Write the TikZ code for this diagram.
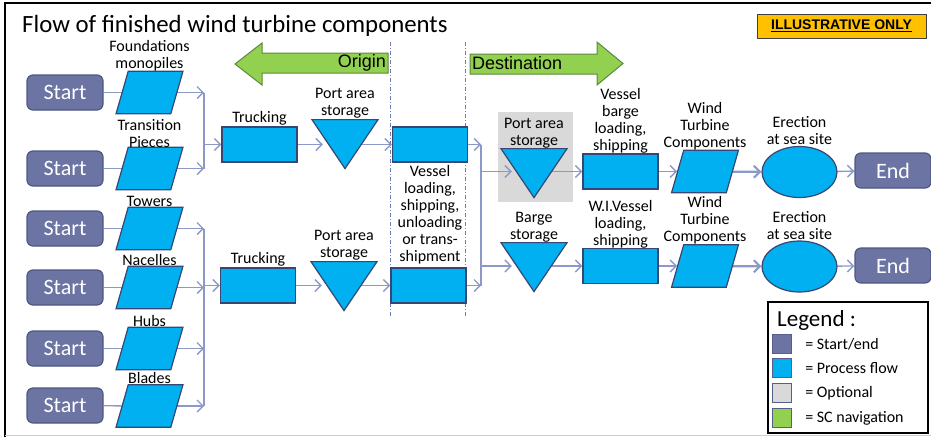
\documentclass[tikz,border=0pt]{standalone}
\usepackage{fontspec}
\setmainfont{Carlito}
\newfontfamily\arialfont{Liberation Sans}
\usepackage{tikz}
\usetikzlibrary{arrows.meta, positioning, shapes.geometric, backgrounds}
\usepackage{xcolor}
\definecolor{startfill}{RGB}{107,116,162}
\definecolor{startdraw}{RGB}{78,88,130}
\definecolor{procblue}{RGB}{0,176,240}
\definecolor{procdraw}{RGB}{55,70,115}
\definecolor{flowline}{RGB}{140,153,200}
\definecolor{optgray}{RGB}{217,217,217}
\definecolor{navgreen}{RGB}{146,208,80}
\definecolor{navdraw}{RGB}{95,135,60}
\definecolor{illuyellow}{RGB}{255,192,0}
\definecolor{divline}{RGB}{110,125,180}
\definecolor{keydraw}{RGB}{85,95,140}

\tikzset{
  startbox/.style={rectangle, rounded corners=6pt, fill=startfill, draw=startdraw,
    line width=1.2pt, minimum width=76pt, minimum height=35pt, inner sep=0pt,
    text=white, font=\fontsize{22}{22}\selectfont},
  procbox/.style={rectangle, fill=procblue, draw=procdraw, line width=1.2pt,
    minimum width=75pt, minimum height=35pt, inner sep=0pt},
  compbox/.style={trapezium, trapezium left angle=74, trapezium right angle=106,
    fill=procblue, draw=procdraw, line width=1.2pt,
    minimum width=67pt, minimum height=41pt, inner sep=1pt},
  storetri/.style={isosceles triangle, isosceles triangle apex angle=68,
    shape border rotate=270, fill=procblue, draw=procdraw, line width=1.2pt,
    minimum width=49pt, minimum height=49pt, inner sep=1pt, anchor=lower side},
  siteell/.style={ellipse, fill=procblue, draw=procdraw, line width=1.2pt,
    minimum width=75pt, minimum height=51pt, inner sep=0pt},
  lbl/.style={font=\fontsize{16}{17}\selectfont, align=center, inner sep=1pt},
  flow/.style={draw=flowline, line width=1.4pt},
  flowarr/.style={flow, -{Straight Barb[length=6pt, width=12pt]}},
  navarrow/.style={fill=navgreen, draw=navdraw, line width=1pt},
  keybox/.style={rectangle, minimum size=19pt, inner sep=0pt, draw=keydraw, line width=1.2pt},
  keytext/.style={font=\fontsize{16}{18}\selectfont, inner sep=0pt},
}

\begin{document}
\begin{tikzpicture}[x=1pt, y=-1pt]
\useasboundingbox (0,0) rectangle (931,437);

% frame and title
\draw[line width=1.5pt] (5,437) -- (5,3) -- (931,3);
\draw[black!20, line width=1pt] (5,435.5) -- (931,435.5);
\node[anchor=base west, inner sep=0pt, font=\fontsize{24.8}{25}\selectfont] (title) at (22,32)
  {Flow of finished wind turbine components};
\node[fill=illuyellow, draw=black!75, line width=1pt, minimum width=169pt, minimum height=24pt,
  inner sep=0pt, font=\arialfont\bfseries\fontsize{14}{14}\selectfont] (illu) at (841.5,26)
  {\underline{ILLUSTRATIVE ONLY}};

% navigation arrows
\draw[navarrow] (388,53) -- (262,53) -- (262,43) -- (235,64) -- (262,85) -- (262,73) -- (388,73) -- cycle;
\node[anchor=east, inner sep=0pt, font=\arialfont\fontsize{18}{18}\selectfont] (origin) at (386,63) {Origin};
\draw[navarrow] (470,54) -- (597,54) -- (597,42) -- (623,63.5) -- (597,85) -- (597,74) -- (470,74) -- cycle;
\node[anchor=west, inner sep=0pt, font=\arialfont\fontsize{18}{18}\selectfont] (dest) at (472,63) {Destination};

% dividers
\draw[divline, line width=1pt, dash pattern=on 4pt off 2pt on 1pt off 2pt] (390,42) -- (390,317);
\draw[divline, line width=1pt, dash pattern=on 4pt off 2pt on 1pt off 2pt] (465,42) -- (465,317);

% start column
\node[startbox] (s1) at (65,92.5) {Start};
\node[startbox] (s2) at (65,168.5) {Start};
\node[startbox] (s3) at (65,228.5) {Start};
\node[startbox] (s4) at (65,287.5) {Start};
\node[startbox] (s5) at (65,348.5) {Start};
\node[startbox] (s6) at (65,405.5) {Start};

% components
\node[compbox] (p1) at (149.5,92.5) {};
\node[compbox] (p2) at (149.5,168.5) {};
\node[compbox] (p3) at (149.5,228.5) {};
\node[compbox] (p4) at (149.5,287.5) {};
\node[compbox] (p5) at (149.5,348.5) {};
\node[compbox] (p6) at (149.5,406) {};
\node[lbl, above=-2pt of p1] (p1l) {Foundations\\monopiles};
\node[lbl, above=-2pt of p2] (p2l) {Transition\\Pieces};
\node[lbl, above=-1pt of p3] (p3l) {Towers};
\node[lbl, above=-1pt of p4] (p4l) {Nacelles};
\node[lbl, above=-1pt of p5] (p5l) {Hubs};
\node[lbl, above=-1pt of p6] (p6l) {Blades};

% origin side
\node[procbox] (t1) at (259.5,144.5) {};
\node[procbox] (t2) at (258,285.5) {};
\node[lbl, above=-0.5pt of t1] (t1l) {Trucking};
\node[lbl, above=-0.5pt of t2] (t2l) {Trucking};
\node[storetri] (q1) at (345,119) {};
\node[storetri] (q2) at (344,261) {};
\node[lbl, above=0pt of q1.lower side] (q1l) {Port area\\storage};
\node[lbl, above=0pt of q2.lower side] (q2l) {Port area\\storage};
\node[procbox] (v1) at (430,144.5) {};
\node[procbox] (v2) at (428.5,285.5) {};
\node[lbl, below=2pt of v1] (v1l) {Vessel\\loading,\\shipping,\\unloading\\or trans-\\shipment};

% destination side
\node[storetri] (q3) at (534,148) {};
\node[storetri] (q4) at (534,242) {};
\node[lbl, above=-1pt of q3.lower side] (q3l) {Port area\\storage};
\node[lbl, above=-1pt of q4.lower side] (q4l) {Barge\\storage};
\node[procbox] (b3) at (620.5,171.5) {};
\node[procbox] (b4) at (620.5,266) {};
\node[lbl, above=-1.5pt of b3] (b3l) {Vessel\\barge\\loading,\\shipping};
\node[lbl, above=-1.5pt of b4] (b4l) {W.I.Vessel\\loading,\\shipping};
\node[compbox] (p7) at (705,171.5) {};
\node[compbox] (p8) at (705,266) {};
\node[lbl, above=-1.5pt of p7] (p7l) {Wind\\Turbine\\Components};
\node[lbl, above=-1.5pt of p8] (p8l) {Wind\\Turbine\\Components};
\node[siteell] (e1) at (799.5,172) {};
\node[siteell] (e2) at (799.5,266.5) {};
\node[lbl, above=0pt of e1] (e1l) {Erection\\at sea site};
\node[lbl, above=0pt of e2] (e2l) {Erection\\at sea site};
\node[startbox] (n1) at (893,170.5) {End};
\node[startbox] (n2) at (893,265.5) {End};

% bus points
\coordinate (ba1) at (204,92.5);
\coordinate (ba2) at (204,168.5);
\coordinate (bb1) at (204,228.5);
\coordinate (bb2) at (204,406);
\coordinate (bc1) at (481,144.5);
\coordinate (bc2) at (481,285.5);

% legend
\node[draw=black, line width=1.5pt, minimum width=160pt, minimum height=131pt, inner sep=0pt] (legend) at (848,367.5) {};
\node[anchor=base west, inner sep=0pt, font=\fontsize{23}{23}\selectfont] (legtitle) at (777,326) {Legend :};
\node[keybox, fill=startfill] (k1) at (782,344) {};
\node[keybox, fill=procblue] (k2) at (782,368) {};
\node[keybox, fill=optgray] (k3) at (782,393) {};
\node[keybox, fill=navgreen] (k4) at (782,418) {};
\node[keytext, right=13pt of k1] (k1t) {= Start/end};
\node[keytext, right=13pt of k2] (k2t) {= Process flow};
\node[keytext, right=13pt of k3] (k3t) {= Optional};
\node[keytext, right=13pt of k4] (k4t) {= SC navigation};

\begin{scope}[on background layer]
  \node[fill=optgray, minimum width=75pt, minimum height=90pt, inner sep=0pt] (opt) at (535.5,157) {};
  % left feeders
  \draw[flow] (s1) -- (p1);
  \draw[flow] (s2) -- (p2);
  \draw[flow] (s3) -- (p3);
  \draw[flow] (s4) -- (p4);
  \draw[flow] (s5) -- (p5);
  \draw[flow] (s6) -- (p6);
  \draw[flowarr] (p1.east) -- (ba1);
  \draw[flowarr] (p2.east) -- (ba2);
  \draw[flowarr] (p3.east) -- (bb1);
  \draw[flowarr] (p4.east) -- (p4.east -| bb1);
  \draw[flowarr] (p5.east) -- (p5.east -| bb1);
  \draw[flowarr] (p6.east) -- (bb2);
  \draw[flow] (ba1) -- (ba2);
  \draw[flow] (bb1) -- (bb2);
  \draw[flowarr] (ba1 |- t1) -- (t1.west);
  \draw[flowarr] (bb1 |- t2) -- (t2.west);
  % origin rows
  \draw[flowarr] (t1.east) -- (t1 -| q1.west);
  \draw[flowarr] (t2.east) -- (t2 -| q2.west);
  \draw[flowarr] (q1.center |- v1) -- (v1.west);
  \draw[flowarr] (q2.center |- v2) -- (v2.west);
  \draw[flowarr] (v1.east) -- (bc1);
  \draw[flowarr] (v2.east) -- (bc2);
  \draw[flow] (bc1) -- (bc2);
  % destination rows
  \draw[flowarr] (bc1 |- b3) -- (b3 -| q3.west);
  \draw[flowarr] (bc1 |- b4) -- (b4 -| q4.west);
  \draw[flowarr] (q3.center |- b3) -- (b3.west);
  \draw[flowarr] (q4.center |- b4) -- (b4.west);
  \draw[flowarr] (b3) -- (p7);
  \draw[flowarr] (b4) -- (p8);
  \draw[flowarr, line width=2.2pt] (p7) -- (e1);
  \draw[flowarr, line width=2.2pt] (p8) -- (e2);
  \draw[flowarr] (e1) -- (n1);
  \draw[flowarr] (e2) -- (n2);
\end{scope}

\end{tikzpicture}
\end{document}
